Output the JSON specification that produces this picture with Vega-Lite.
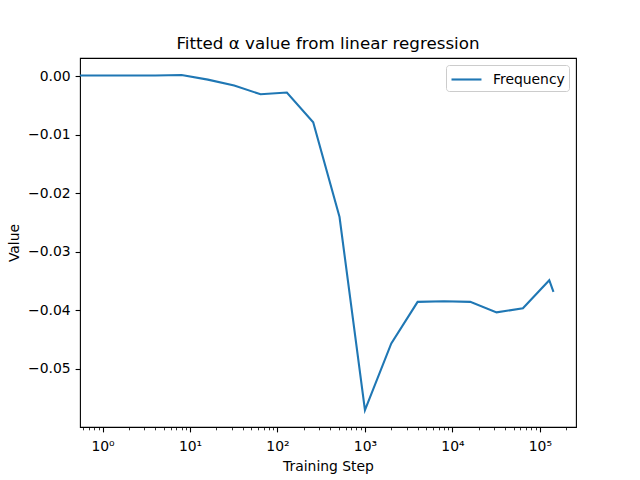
{
  "$schema": "https://vega.github.io/schema/vega-lite/v6.json",
  "width": 496,
  "height": 369,
  "autosize": {"type": "none"},
  "padding": {"left": 80, "top": 58, "right": 64, "bottom": 53},
  "config": {
    "font": "DejaVu Sans",
    "view": {"stroke": "black", "strokeWidth": 1.1},
    "axis": {
      "domain": false,
      "grid": false,
      "tickColor": "black",
      "tickWidth": 1.1,
      "tickSize": 4.9,
      "labelPadding": 4.9,
      "labelColor": "black",
      "labelFontSize": 13.9,
      "labelFont": "DejaVu Sans",
      "titleColor": "black",
      "titleFontSize": 13.9,
      "titleFontWeight": "normal",
      "titleFont": "DejaVu Sans"
    }
  },
  "title": {
    "text": "Fitted α value from linear regression",
    "fontSize": 16.7,
    "fontWeight": "normal",
    "font": "DejaVu Sans",
    "color": "black",
    "offset": 5
  },
  "data": {
    "values": [
      {"step": 0.3, "value": 0.0001},
      {"step": 1, "value": 0.0001},
      {"step": 2, "value": 0.0001},
      {"step": 4, "value": 0.0001},
      {"step": 8, "value": 0.0002},
      {"step": 16, "value": -0.0006},
      {"step": 32, "value": -0.0016},
      {"step": 64, "value": -0.0031},
      {"step": 128, "value": -0.0028},
      {"step": 256, "value": -0.0079},
      {"step": 512, "value": -0.0241},
      {"step": 1000, "value": -0.0571},
      {"step": 2000, "value": -0.0457},
      {"step": 4000, "value": -0.0386},
      {"step": 8000, "value": -0.0385},
      {"step": 16000, "value": -0.0386},
      {"step": 32000, "value": -0.0404},
      {"step": 64000, "value": -0.0397},
      {"step": 128000, "value": -0.0349},
      {"step": 143000, "value": -0.0369}
    ]
  },
  "layer": [
    {
      "mark": {"type": "line", "clip": true, "strokeWidth": 2.1},
      "encoding": {
        "x": {
          "field": "step",
          "type": "quantitative",
          "scale": {"type": "log", "domain": [0.552, 258800], "nice": false, "zero": false},
          "axis": {
            "orient": "bottom",
            "values": [1, 10, 100, 1000, 10000, 100000],
            "labelExpr": "'10' + (datum.value < 1.5 ? '⁰' : datum.value < 15 ? '¹' : datum.value < 150 ? '²' : datum.value < 1500 ? '³' : datum.value < 15000 ? '⁴' : '⁵')",
            "labelPadding": 8,
            "title": "Training Step",
            "titlePadding": 6
          }
        },
        "y": {
          "field": "value",
          "type": "quantitative",
          "scale": {"domain": [-0.06, 0.0031], "nice": false, "zero": false},
          "axis": {
            "values": [0, -0.01, -0.02, -0.03, -0.04, -0.05],
            "labelExpr": "replace(format(datum.value, '.2f'), '-', '−')",
            "title": "Value",
            "titlePadding": 6
          }
        },
        "color": {
          "datum": "Frequency",
          "type": "nominal",
          "scale": {"range": ["#1f77b4"]},
          "legend": {
            "title": null,
            "orient": "top-right",
            "offset": 7,
            "symbolType": "M-1,0H2.33",
            "symbolStrokeWidth": 2.1,
            "symbolSize": 324,
            "labelFontSize": 13.9,
            "labelFont": "DejaVu Sans",
            "labelColor": "black",
            "labelOffset": 22,
            "padding": 4,
            "strokeColor": "#cccccc",
            "fillColor": "white",
            "cornerRadius": 3
          }
        }
      }
    },
    {
      "mark": {"type": "line", "opacity": 0},
      "encoding": {
        "x": {
          "field": "step",
          "type": "quantitative",
          "scale": {"type": "log", "domain": [0.552, 258800], "nice": false, "zero": false},
          "axis": {
            "orient": "bottom",
            "values": [0.6, 0.7, 0.8, 0.9, 2, 3, 4, 5, 6, 7, 8, 9, 20, 30, 40, 50, 60, 70, 80, 90, 200, 300, 400, 500, 600, 700, 800, 900, 2000, 3000, 4000, 5000, 6000, 7000, 8000, 9000, 20000, 30000, 40000, 50000, 60000, 70000, 80000, 90000, 200000],
            "labels": false,
            "title": null,
            "tickSize": 2.8,
            "tickWidth": 0.8
          }
        },
        "y": {"field": "value", "type": "quantitative"}
      }
    }
  ],
  "resolve": {"scale": {"x": "independent"}}
}
